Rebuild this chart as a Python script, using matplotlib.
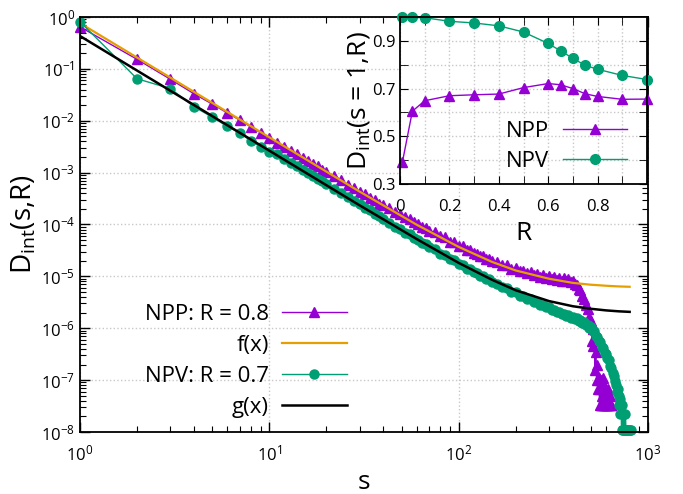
import numpy as np
import matplotlib
matplotlib.use('Agg')
import matplotlib.pyplot as plt
from matplotlib.ticker import LogLocator, NullFormatter, FixedLocator

plt.rcParams['font.family'] = ['Open Sans', 'DejaVu Sans']
plt.rcParams['axes.unicode_minus'] = False

npp_s = [1, 2, 3, 4, 5, 6, 7, 8, 9, 10, 11, 12, 13, 14, 15, 16, 17, 18, 19, 20,
         22, 24, 26, 28, 30, 32, 34, 36, 38, 40,
         43, 46, 49, 52, 55, 58, 61, 64, 67, 70,
         75, 80, 85, 90, 95, 100, 105, 110, 115, 120, 125, 130, 135, 140, 145, 150,
         160, 170, 180, 190, 200, 210, 220, 230, 240, 250, 260, 270, 280, 290, 300,
         310, 320, 330, 340, 350, 360, 370, 380, 390, 400, 410, 420, 430, 440, 450,
         460, 470, 480, 490, 500, 505, 510, 515, 520, 525, 530, 535, 540, 545, 550,
         555, 558, 561, 564, 567, 570, 573, 576, 579, 582, 585, 588, 591, 594, 597,
         600, 605, 610, 615, 620, 625, 630, 635, 640]
npp_logd = [-0.19, -0.815, -1.20, -1.48, -1.68, -1.85, -1.99, -2.12, -2.23, -2.33,
            -2.42, -2.50, -2.58, -2.65, -2.71, -2.77, -2.83, -2.88, -2.94, -2.98,
            -3.07, -3.14, -3.24, -3.29, -3.37, -3.42, -3.49, -3.53, -3.60, -3.63,
            -3.68, -3.76, -3.79, -3.86, -3.90, -3.96, -3.99, -4.04, -4.07, -4.12,
            -4.15, -4.23, -4.25, -4.33, -4.34, -4.41, -4.42, -4.49, -4.49, -4.55,
            -4.56, -4.61, -4.61, -4.66, -4.66, -4.71,
            -4.72, -4.79, -4.79, -4.85, -4.84, -4.90, -4.89, -4.94, -4.92, -4.98,
            -4.96, -5.01, -4.98, -5.03, -5.00, -5.05, -5.02, -5.07, -5.03, -5.08,
            -5.04, -5.08, -5.05, -5.10, -5.09, -5.15, -5.16, -5.24, -5.27, -5.37,
            -5.43, -5.56, -5.62, -5.79, -5.86, -6.25, -6.02, -6.35, -6.22, -6.80,
            -6.45, -7.00, -6.70, -7.18, -6.95,
            -7.48, -7.00, -7.18, -7.48, -7.00, -7.30, -7.48, -7.18, -7.48, -6.95,
            -7.48, -7.18, -7.48, -7.30, -7.48, -7.18, -7.48, -7.48, -7.18, -7.48,
            -7.48, -7.30, -7.48, -7.48]

npv_s = [1, 2, 3, 4, 5, 6, 7, 8, 9, 10, 11, 12, 13, 14, 15, 16, 17, 18, 19, 20,
         22, 24, 26, 28, 30, 32, 34, 36, 38, 40,
         43, 46, 49, 52, 55, 58, 61, 64, 67, 70,
         75, 80, 85, 90, 95, 100, 105, 110, 115, 120, 125, 130, 135, 140, 145, 150,
         160, 170, 180, 190, 200, 210, 220, 230, 240, 250, 260, 270, 280, 290, 300,
         310, 320, 330, 340, 350, 360, 370, 380, 390, 400, 410, 420, 430, 440, 450,
         460, 470, 480, 490, 500, 510, 520, 530, 540, 550, 560, 570, 580, 590, 600,
         610, 620, 630, 640, 650, 660, 670, 680, 690, 695, 700, 705, 710, 715, 720,
         725, 730, 735, 740, 745, 750, 755, 760, 765, 770, 780, 790, 800, 810]
npv_logd = [-0.09, -1.19, -1.38, -1.73, -1.93, -2.11, -2.24, -2.39, -2.50, -2.60,
            -2.65, -2.73, -2.81, -2.88, -2.95, -3.01, -3.07, -3.12, -3.17, -3.22,
            -3.31, -3.40, -3.47, -3.55, -3.61, -3.68, -3.73, -3.79, -3.84, -3.89,
            -3.97, -4.04, -4.08, -4.16, -4.19, -4.26, -4.29, -4.36, -4.37, -4.44,
            -4.47, -4.56, -4.59, -4.67, -4.69, -4.77, -4.78, -4.85, -4.86, -4.92,
            -4.94, -4.99, -5.00, -5.05, -5.06, -5.10,
            -5.14, -5.21, -5.23, -5.30, -5.31, -5.37, -5.37, -5.43, -5.44, -5.49,
            -5.49, -5.55, -5.55, -5.60, -5.60, -5.65, -5.64, -5.69, -5.68, -5.73,
            -5.72, -5.77, -5.75, -5.80, -5.78, -5.83, -5.80, -5.86, -5.84, -5.90,
            -5.88, -5.94, -5.93, -5.99, -5.98, -6.05, -6.06, -6.14, -6.16, -6.25,
            -6.27, -6.36, -6.38, -6.47, -6.49, -6.58, -6.62, -6.72, -6.76, -6.86,
            -6.92, -7.02, -7.10, -7.22, -7.18, -7.30, -7.48, -7.36, -7.66, -7.48,
            -7.96, -7.48, -7.66, -7.96, -7.66, -7.96, -7.96, -7.66, -7.96, -7.96,
            -7.96, -7.96, -7.96, -7.96]

# fitted curves f(x), g(x) read at a few s
fit_s = [1, 10, 30, 60, 100, 150, 200, 300, 400, 500, 600, 700, 800]
f_vals = [0.76, 4.8e-3, 4.3e-4, 9.9e-5, 3.7e-5, 1.9e-5, 1.3e-5, 9.0e-6, 7.5e-6,
          6.9e-6, 6.6e-6, 6.4e-6, 6.3e-6]
g_vals = [0.43, 2.65e-3, 2.34e-4, 5.25e-5, 1.82e-5, 8.6e-6, 5.4e-6, 3.34e-6,
          2.66e-6, 2.37e-6, 2.21e-6, 2.12e-6, 2.07e-6]

# ---- inset: D_int(s=1, R) ----
r_vals = [0.01, 0.05, 0.1, 0.2, 0.3, 0.4, 0.5, 0.6, 0.65, 0.7, 0.75, 0.8, 0.9, 1.0]
npp_d1 = [0.393, 0.605, 0.649, 0.670, 0.674, 0.677, 0.704, 0.721, 0.716, 0.700,
          0.678, 0.667, 0.655, 0.656]
npv_d1 = [0.999, 0.998, 0.997, 0.982, 0.975, 0.963, 0.937, 0.889, 0.858, 0.827,
          0.797, 0.781, 0.755, 0.738]

main_labels = ['NPP: R = 0.8', 'f(x)', 'NPV: R = 0.7', 'g(x)']
inset_labels = ['NPP', 'NPV']
inset_xticks = [0, 0.2, 0.4, 0.6, 0.8]
inset_xticklabels = ['0', '0.2', '0.4', '0.6', '0.8']
inset_yticks = [0.3, 0.5, 0.7, 0.9]
inset_yticklabels = ['0.3', '0.5', '0.7', '0.9']

purple = '#9400d3'
green = '#009e73'
orange = '#e69f00'
gridcol = '#c8c8c8'

fig = plt.figure(figsize=(6.83, 4.94), dpi=100)
W, H = 683, 494
ax = fig.add_axes([80 / W, 1 - 432 / H, 568 / W, 415 / H])

l1, = ax.plot(npp_s, 10 ** np.array(npp_logd), color=purple, lw=1, marker='^',
              ms=7, label=main_labels[0], clip_on=False)
l2, = ax.plot(fit_s, f_vals, color=orange, lw=1.6, label=main_labels[1])
l3, = ax.plot(npv_s, 10 ** np.array(npv_logd), color=green, lw=1, marker='o',
              ms=6.5, label=main_labels[2], clip_on=False)
l4, = ax.plot(fit_s, g_vals, color='black', lw=1.8, label=main_labels[3])

ax.set_xscale('log')
ax.set_yscale('log')
ax.set_xlim(1, 1000)
ax.set_ylim(1e-8, 1)
ax.yaxis.set_major_locator(LogLocator(base=10, numticks=20))
ax.yaxis.set_minor_locator(LogLocator(base=10, subs=np.arange(2, 10), numticks=100))
ax.yaxis.set_minor_formatter(NullFormatter())
ax.xaxis.set_minor_locator(LogLocator(base=10, subs=np.arange(2, 10), numticks=100))
ax.xaxis.set_minor_formatter(NullFormatter())
ax.tick_params(which='both', direction='in', top=True, right=True, labelsize=12)
ax.tick_params(which='major', length=7, width=1)
ax.tick_params(which='minor', length=4, width=0.8)
ax.tick_params(axis='x', which='major', pad=9)
ax.grid(True, which='major', color=gridcol, ls=':', lw=1)
for sp in ax.spines.values():
    sp.set_linewidth(1.3)
ax.set_xlabel('s', fontsize=19, labelpad=4)
ax.set_ylabel(r'D$_{\mathregular{int}}$(s,R)', fontsize=20, labelpad=2)

leg = ax.legend(handles=[l1, l2, l3, l4], loc='upper right', bbox_to_anchor=(0.485, 0.33),
                frameon=False, markerfirst=False, fontsize=16, handlelength=2.9,
                handletextpad=0.6, labelspacing=0.45, borderaxespad=0)
leg._legend_box._children[-1]._children[0].align = 'right'

# inset
ins = fig.add_axes([400 / W, 1 - 184 / H, 247 / W, 167 / H])
ins.set_facecolor('white')
i1, = ins.plot(r_vals, npp_d1, color=purple, lw=1, marker='^', ms=7,
               label=inset_labels[0], clip_on=False)
i2, = ins.plot(r_vals, npv_d1, color=green, lw=1, marker='o', ms=7,
               label=inset_labels[1], clip_on=False)
ins.set_xlim(0, 1)
ins.set_ylim(0.3, 1.0)
ins.set_xticks(inset_xticks)
ins.set_xticklabels(inset_xticklabels)
ins.set_yticks(inset_yticks)
ins.set_yticklabels(inset_yticklabels)
ins.xaxis.set_minor_locator(FixedLocator([0.1, 0.3, 0.5, 0.7, 0.9]))
ins.yaxis.set_minor_locator(FixedLocator([0.4, 0.6, 0.8]))
ins.tick_params(which='both', direction='in', top=True, right=True, labelsize=12)
ins.tick_params(which='major', length=6)
ins.tick_params(which='minor', length=6)
ins.tick_params(axis='x', which='major', pad=11)
ins.grid(True, which='both', color=gridcol, ls=':', lw=1)
for sp in ins.spines.values():
    sp.set_linewidth(1.3)
ins.set_xlabel('R', fontsize=19, labelpad=4)
ins.set_ylabel(r'D$_{\mathregular{int}}$(s = 1,R)', fontsize=19, labelpad=0)
ileg = ins.legend(handles=[i1, i2], loc='lower right', bbox_to_anchor=(0.955, 0.02),
                  frameon=False, markerfirst=False, fontsize=16, handlelength=2.9,
                  handletextpad=0.6, labelspacing=0.4, borderaxespad=0)

fig.savefig('out.png', dpi=100)
